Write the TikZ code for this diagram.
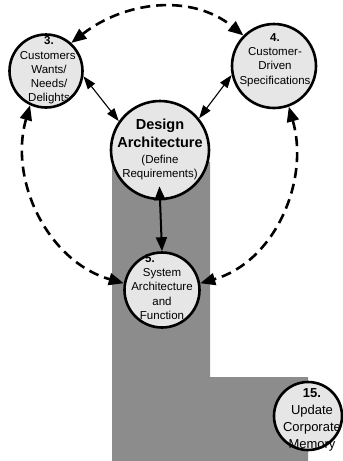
\documentclass[tikz,border=0pt]{standalone}
\usepackage{fontspec}
\setmainfont{Liberation Sans}
\usetikzlibrary{arrows.meta}
\definecolor{bubble}{RGB}{230,230,230}
\definecolor{track}{RGB}{140,140,140}
\newcommand{\headfont}{\fontsize{14.5}{18}\selectfont\bfseries}
\begin{document}
\begin{tikzpicture}[x=1pt,y=-1pt,
  stage/.style={circle, draw=black, line width=2.6pt, fill=bubble, inner sep=0pt},
  caption/.style={align=center, inner sep=0pt, font=\fontsize{11.5}{14.2}\selectfont},
  loop/.style={line width=2.6pt, dash pattern=on 10pt off 6pt,
    {Triangle[length=15pt,width=12pt]}-{Triangle[length=15pt,width=12pt]}},
  link/.style={line width=1.1pt,
    {Triangle[length=13pt,width=9pt]}-{Triangle[length=13pt,width=9pt]}}]
\useasboundingbox (0,0) rectangle (343,461);

% L-shaped band behind the lower stages
\fill[track] (112,162) -- (210,162) -- (210,377) -- (308,377) -- (308,461) -- (112,461) -- cycle;

% stage circles
\node[stage, minimum size=73pt] (c3) at (46,71) {};
\node[stage, minimum size=84pt] (c4) at (274,66) {};
\node[stage, minimum size=98pt] (da) at (160,150) {};
\node[stage, minimum size=75pt] (c5) at (162,290) {};
\node[stage, minimum size=68pt] (c15) at (308,416) {};

% stage texts
\node[caption] (t3) at (49,70.5) {\textbf{3.}\\Customers'\\Wants/\\Needs/\\Delights};
\node[caption] (t4) at (275,60) {\textbf{4.}\\Customer-\\Driven\\Specifications};
\node[caption, font=\fontsize{11.5}{14}\selectfont] (tda) at (160,149)
  {{\headfont Design}\\[4pt]{\headfont Architecture}\\[2pt](Define\\Requirements)};
\node[caption] (t5) at (162,287) {\textbf{5.}\hspace*{24pt}\\System\\Architecture\\and\\Function};
\node[caption, font=\fontsize{13}{17}\selectfont] (t15) at (312,420) {\textbf{15.}\\Update\\Corporate\\Memory};

% feedback loop between the outer stages
\draw[loop] (c3.48) to[out=38,in=141] (c4.135);
\draw[loop] (c3.245) to[out=-106,in=164] (c5.170);
\draw[loop] (c4.290) to[out=-74,in=16] (c5.10);

% links to the design architecture
\draw[link] (c3.-8) -- (da.145);
\draw[link] (c4.192) -- (da.39);
\draw[link, line width=2pt, {Triangle[length=14pt,width=11pt]}-{Triangle[length=14pt,width=11pt]}, shorten <=-14pt] (da.south) -- (c5.north);
\end{tikzpicture}
\end{document}
